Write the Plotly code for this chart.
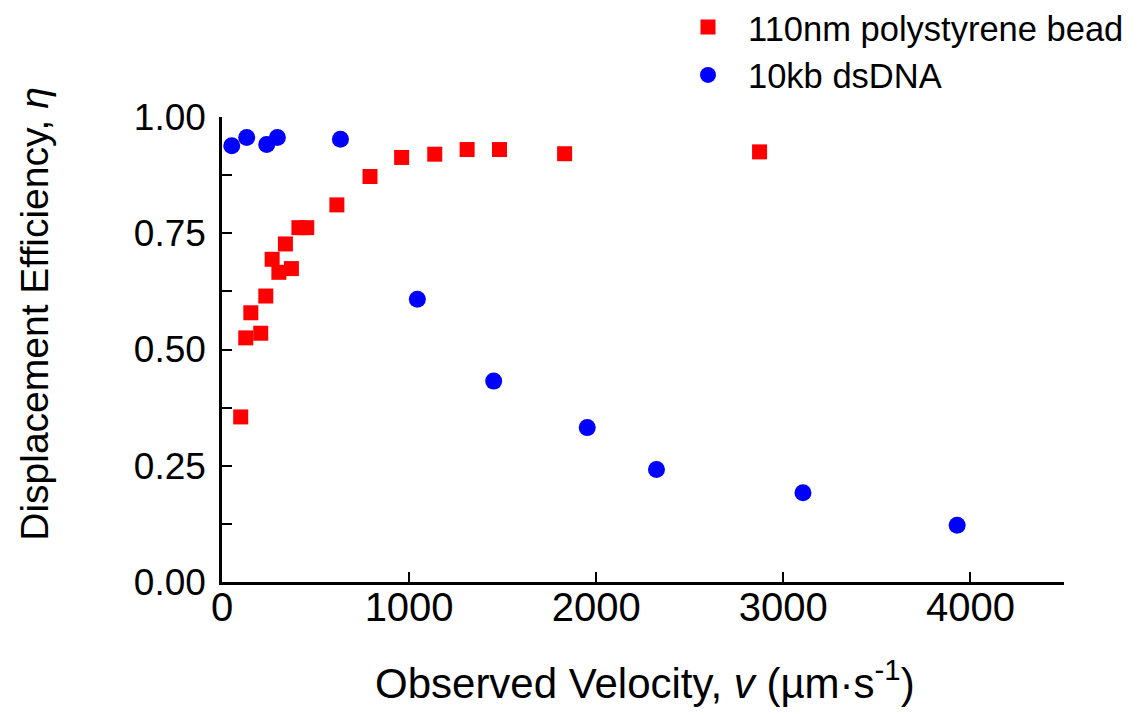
import plotly.graph_objects as go

# Data
bead_velocity = [100, 127, 154, 207, 234, 268, 304, 339, 371, 411, 453, 614, 791, 960, 1137, 1310, 1483, 1831, 2873]
bead_eff = [0.355, 0.525, 0.579, 0.535, 0.615, 0.694, 0.666, 0.727, 0.674, 0.762, 0.762, 0.811, 0.872, 0.913, 0.920, 0.930, 0.930, 0.921, 0.925]

dna_velocity = [52, 132, 239, 296, 633, 1044, 1452, 1952, 2322, 3105, 3929]
dna_eff = [0.938, 0.956, 0.941, 0.956, 0.952, 0.608, 0.432, 0.332, 0.242, 0.192, 0.122]

bead_name = "110nm polystyrene bead"
dna_name = "10kb dsDNA"

x_ticks = [0, 1000, 2000, 3000, 4000]
y_ticks = [0.0, 0.25, 0.5, 0.75, 1.0]
y_ticklabels = ["0.00", "0.25", "0.50", "0.75", "1.00"]
y_minor = [0.125, 0.375, 0.625, 0.875]

FONT = "Liberation Sans, Arial, sans-serif"

fig = go.Figure()
fig.add_trace(go.Scatter(
    x=bead_velocity, y=bead_eff, mode="markers", name=bead_name,
    marker=dict(symbol="square", size=15, color="#ff0000", line=dict(width=0)),
    cliponaxis=False,
))
fig.add_trace(go.Scatter(
    x=dna_velocity, y=dna_eff, mode="markers", name=dna_name,
    marker=dict(symbol="circle", size=17, color="#0000ff", line=dict(width=0)),
    cliponaxis=False,
))

# page has an 8px body margin, so the figure is offset by 8px
OFF = 8
W, H = 1140 - 2 * OFF, 715 - 2 * OFF
L = 222 - OFF
T = 117 - OFF
R = W - (1064 - OFF)
B = H - (582.5 - OFF)
pw = W - L - R
ph = H - T - B


def px_to_paper_x(px):
    return (px - OFF - L) / pw


def py_to_paper_y(py):
    return (H - B - (py - OFF)) / ph


fig.update_layout(
    width=W, height=H,
    margin=dict(l=L, r=R, t=T, b=B, autoexpand=False),
    paper_bgcolor="white", plot_bgcolor="white",
    font=dict(family=FONT, color="black"),
    showlegend=True,
    legend=dict(
        x=px_to_paper_x(668), y=py_to_paper_y(-2), xanchor="left", yanchor="top",
        font=dict(size=34.5, family=FONT, color="black"),
        bgcolor="rgba(0,0,0,0)", itemwidth=70, tracegroupgap=0,
    ),
    xaxis=dict(
        range=[0, 4500], showgrid=False, zeroline=False,
        showline=True, linecolor="black", linewidth=2.5,
        ticks="inside", ticklen=10, tickwidth=2, tickcolor="black",
        tickvals=x_ticks, ticktext=[str(v) for v in x_ticks],
        tickfont=dict(size=40, family=FONT, color="black"),
        ticklabelstandoff=-12,
    ),
    yaxis=dict(
        range=[0, 1.0], showgrid=False, zeroline=False,
        showline=True, linecolor="black", linewidth=2.5,
        ticks="inside", ticklen=10, tickwidth=2, tickcolor="black",
        tickvals=y_ticks, ticktext=y_ticklabels,
        tickfont=dict(size=37, family=FONT, color="black"),
        minor=dict(ticks="inside", tickvals=y_minor, ticklen=10, tickwidth=2,
                   tickcolor="black", showgrid=False),
        ticklabelstandoff=6,
    ),
    annotations=[
        dict(text="Observed Velocity, <i>v</i> (µm·s<sup>-1</sup>)",
             xref="paper", yref="paper", x=px_to_paper_x(645), y=py_to_paper_y(681),
             xanchor="center", yanchor="middle", showarrow=False,
             font=dict(size=42, family=FONT, color="black")),
        dict(text="Displacement Efficiency, <i>η</i>",
             xref="paper", yref="paper", x=px_to_paper_x(35), y=py_to_paper_y(314),
             xanchor="center", yanchor="middle", showarrow=False, textangle=-90,
             font=dict(size=39, family=FONT, color="black")),
    ],
)

fig.write_html("out.html")
